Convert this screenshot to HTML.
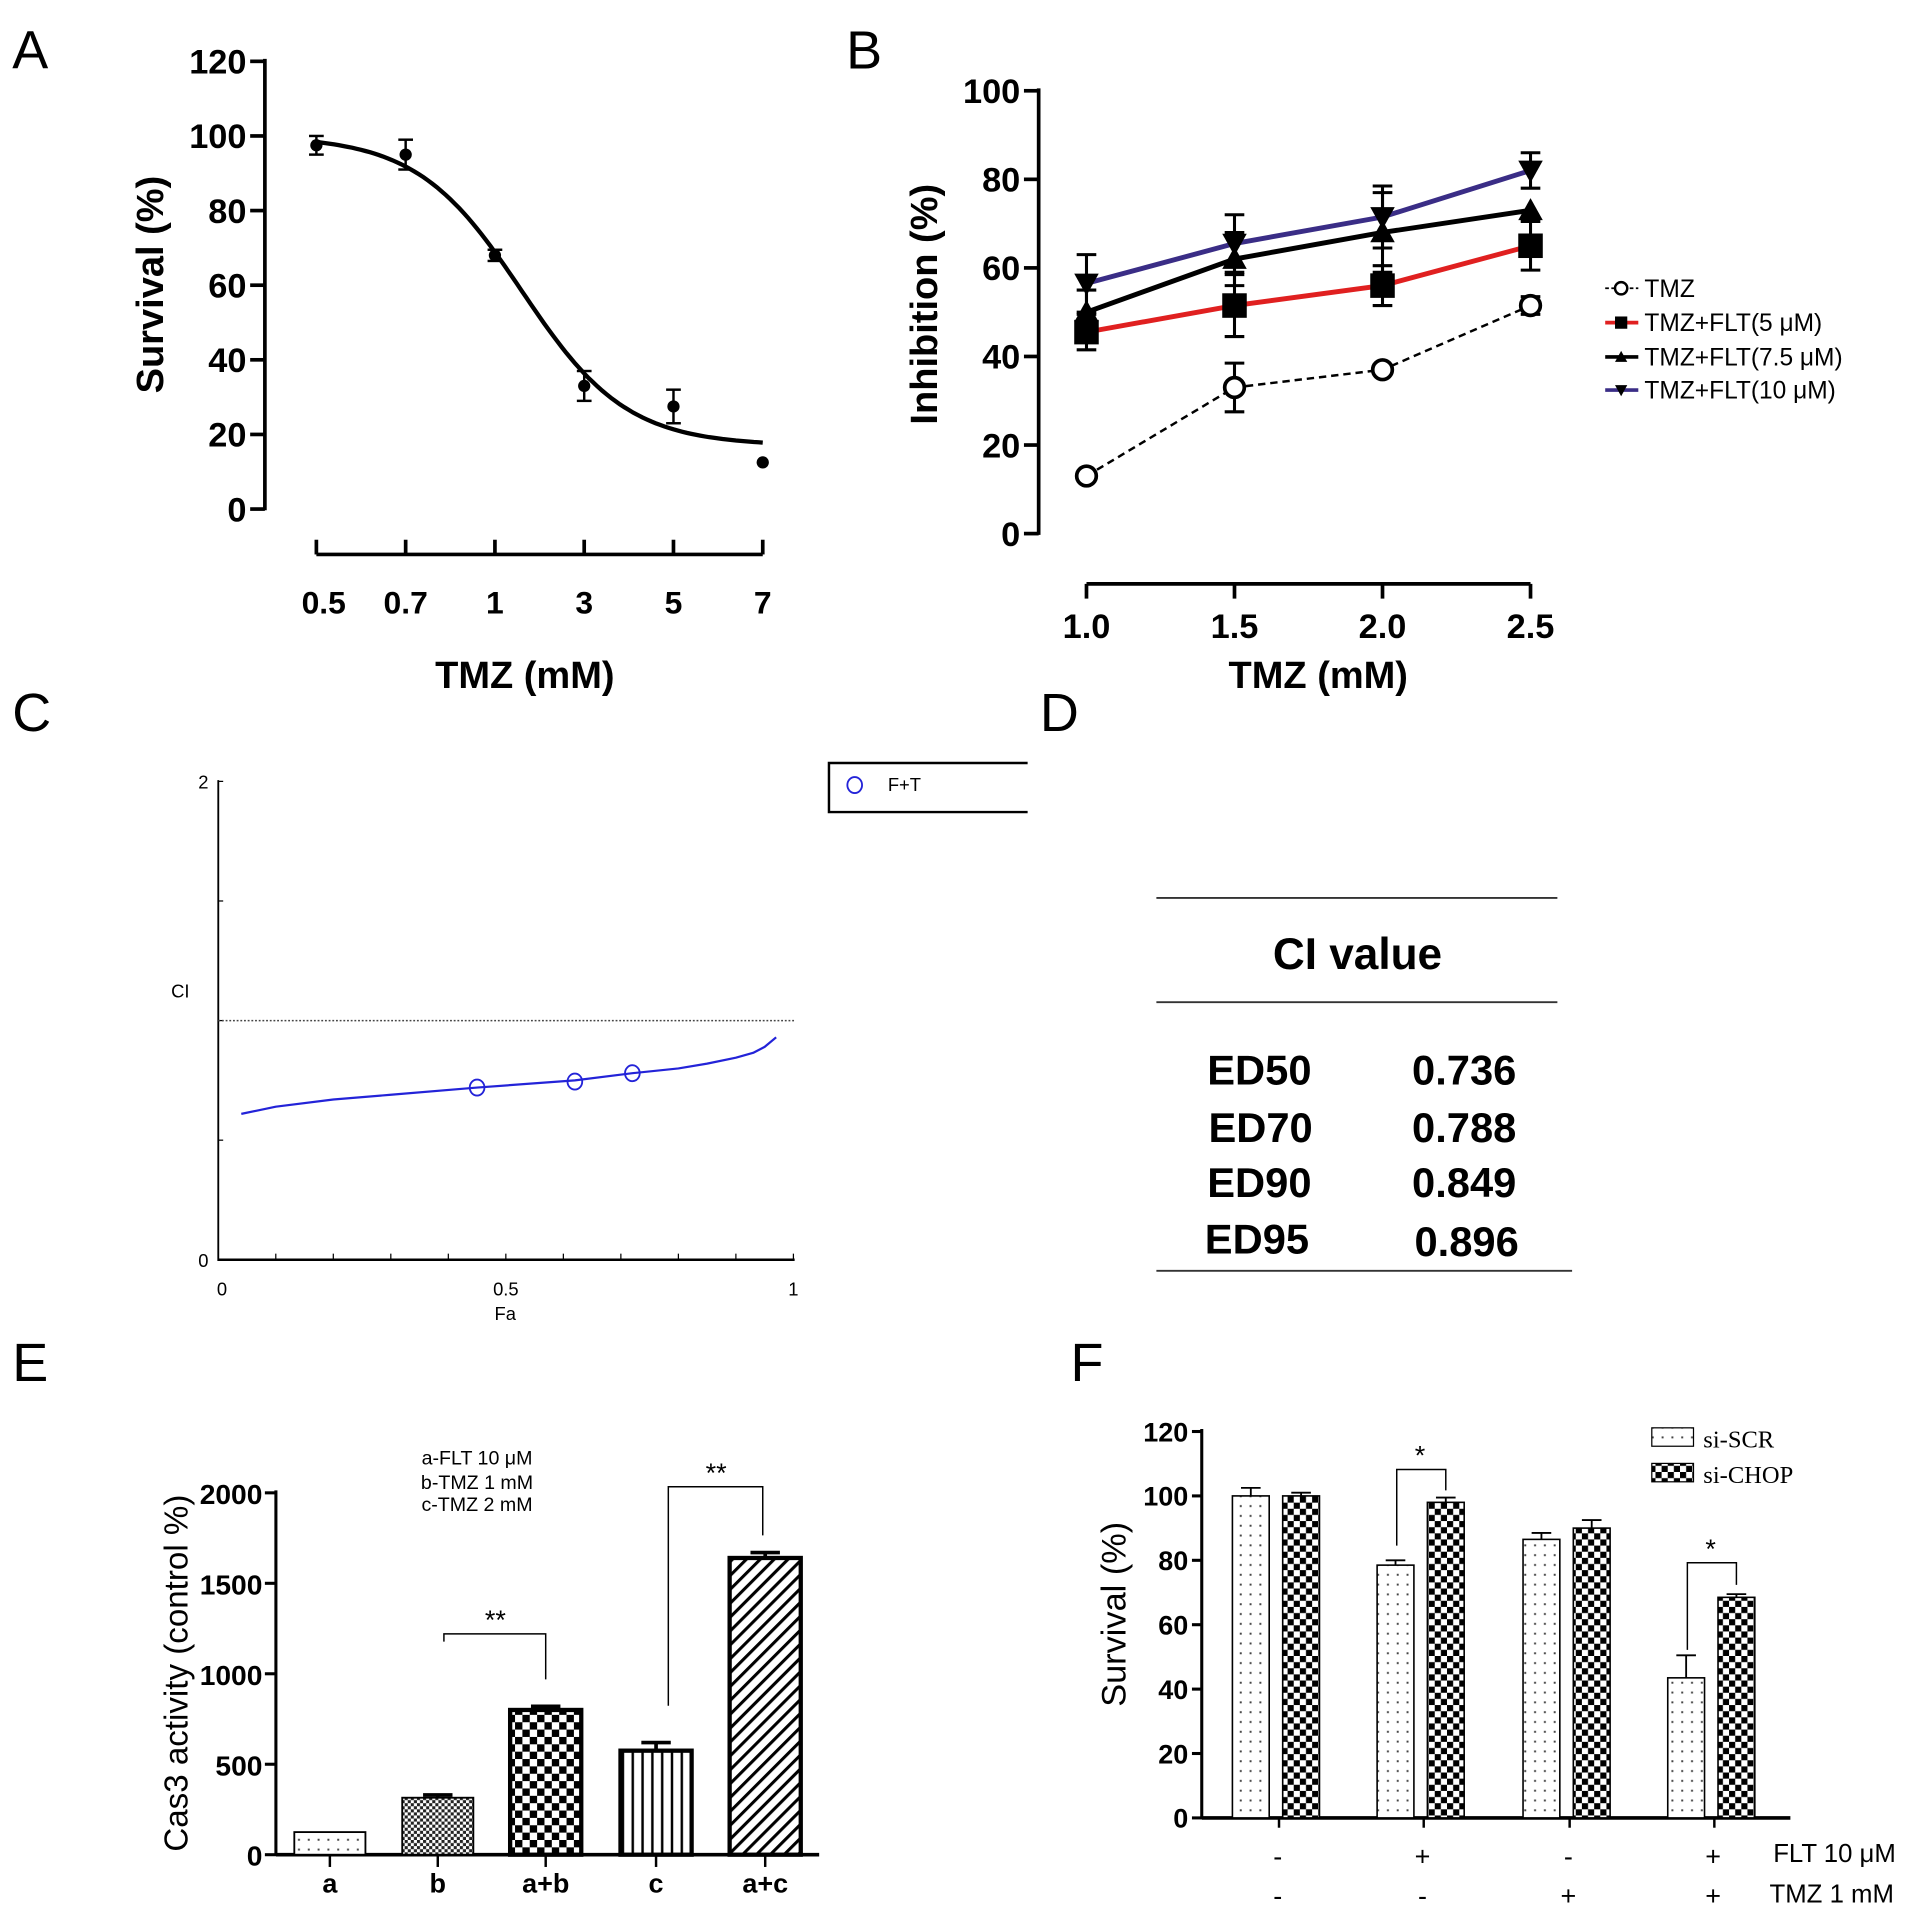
<!DOCTYPE html>
<html><head><meta charset="utf-8"><style>
html,body{margin:0;padding:0;background:#fff;}
svg{display:block;}
text{font-family:"Liberation Sans",Arial,sans-serif;}
text.serif{font-family:"Liberation Serif","Times New Roman",serif;}
</style></head>
<body>
<svg id="fig" width="1913" height="1905" viewBox="0 0 1560 1553" preserveAspectRatio="none" xmlns="http://www.w3.org/2000/svg">
<defs>
<pattern id="pDots" width="8" height="8" patternUnits="userSpaceOnUse"><rect width="8" height="8" fill="#fff"/><rect x="3" y="3" width="1.6" height="1.6" fill="#444"/></pattern>
<pattern id="pFine" width="5" height="5" patternUnits="userSpaceOnUse"><rect width="5" height="5" fill="#fff"/><rect width="2.5" height="2.5" fill="#222"/><rect x="2.5" y="2.5" width="2.5" height="2.5" fill="#222"/></pattern>
<pattern id="pCheck" width="12" height="12" patternUnits="userSpaceOnUse"><rect width="12" height="12" fill="#fff"/><rect width="6" height="6" fill="#000"/><rect x="6" y="6" width="6" height="6" fill="#000"/></pattern>
<pattern id="pCheckF" width="10" height="10" patternUnits="userSpaceOnUse"><rect width="10" height="10" fill="#fff"/><rect width="5" height="5" fill="#000"/><rect x="5" y="5" width="5" height="5" fill="#000"/></pattern>
<pattern id="pVert" width="8" height="8" patternUnits="userSpaceOnUse"><rect width="8" height="8" fill="#fff"/><rect x="3" width="2" height="8" fill="#000"/></pattern>
<pattern id="pDiag" width="8" height="8" patternUnits="userSpaceOnUse" patternTransform="rotate(45)"><rect width="8" height="8" fill="#fff"/><rect x="0" width="2.5" height="8" fill="#000"/></pattern>
</defs>
<g font-size="44">
<text x="10" y="56">A</text><text x="690" y="56">B</text><text x="10" y="596">C</text>
<text x="848" y="596">D</text><text x="10" y="1126">E</text><text x="873" y="1126">F</text>
</g>
<g id="gA"></g>
<g id="gB"></g>
<g id="gC"></g>
<g id="gD">
<line x1="943" y1="732" x2="1270" y2="732" stroke="#333" stroke-width="1.5"/>
<line x1="943" y1="817" x2="1270" y2="817" stroke="#333" stroke-width="1.5"/>
<line x1="943" y1="1036" x2="1282" y2="1036" stroke="#333" stroke-width="1.5"/>
<text x="1107" y="790" font-size="36" font-weight="bold" text-anchor="middle">CI  value</text>
<g font-size="34" font-weight="bold" text-anchor="middle">
<text x="1027" y="884">ED50</text><text x="1194" y="884">0.736</text>
<text x="1028" y="931">ED70</text><text x="1194" y="931">0.788</text>
<text x="1027" y="976">ED90</text><text x="1194" y="976">0.849</text>
<text x="1025" y="1022">ED95</text><text x="1196" y="1024">0.896</text>
</g></g>
<g id="gE"></g>
<g id="gF"></g>
</svg>
<script>
// ---- Panel A data ----
const aCats = ["0.5","0.7","1","3","5","7"];
const aVals = [97.5,95,68,33,27.5,12.5];
const aErr = [2.5,4,1.5,4,4.5,0];
const aFit = [100,17,2.3,1.7]; // top, bottom, mid(index), slope
const aTicks = [0,20,40,60,80,100,120];
// ---- Panel B data ----
const bCats = ["1.0","1.5","2.0","2.5"];
const bTMZ = [13,33,37,51.5];
const bTMZerr = [0,5.5,0,2];
const bF5 = [45.5,51.5,56,65];
const bF5err = [4,7,4.5,5.5];
const bF75 = [50,62,68,73];
const bF75err = [5,6,9,0];
const bF10 = [56.5,65.5,71.5,82];
const bF10err = [6.5,6.5,7,4];
const bTicks = [0,20,40,60,80,100];
// ---- Panel C data ----
const cPtsFa = [0.45,0.62,0.72];
const cPtsCI = [0.72,0.745,0.78];
const cCurveFa = [0.04,0.07,0.1,0.2,0.3,0.45,0.62,0.72,0.8,0.85,0.9,0.93,0.95,0.97];
const cCurveCI = [0.61,0.625,0.64,0.67,0.69,0.72,0.75,0.78,0.8,0.82,0.845,0.865,0.89,0.93];
// ---- Panel E data ----
const eCats = ["a","b","a+b","c","a+c"];
const eVals = [125,315,800,575,1640];
const eErr = [0,15,20,45,30];
const eTicks = [0,500,1000,1500,2000];
// ---- Panel F data ----
const fSCR = [100,78.5,86.5,43.5];
const fSCRerr = [2.5,1.5,2,7];
const fCHOP = [100,98,90,68.5];
const fCHOPerr = [1,1.5,2.5,1];
const fFLT = ["-","+","-","+"];
const fTMZ = ["-","-","+","+"];
const fTicks = [0,20,40,60,80,100,120];

const NS="http://www.w3.org/2000/svg";
function mk(parent,tag,attrs,txt){const e=document.createElementNS(NS,tag);for(const k in attrs)e.setAttribute(k,attrs[k]);if(txt!==undefined)e.textContent=txt;parent.appendChild(e);return e;}

// ===== Panel A =====
(function(){
const g=document.getElementById('gA');
const y=v=>415-v*(365/120);
const x=i=>258+i*72.8;
mk(g,'line',{x1:216,y1:48,x2:216,y2:416,stroke:'#000','stroke-width':3});
aTicks.forEach(t=>{mk(g,'line',{x1:204,y1:y(t),x2:216,y2:y(t),stroke:'#000','stroke-width':3});
 const tl=mk(g,'text',{x:201,y:y(t)+10,'font-size':28,'font-weight':'bold','text-anchor':'end'},t);
 });
mk(g,'line',{x1:x(0),y1:452,x2:x(5),y2:452,stroke:'#000','stroke-width':3});
aCats.forEach((c,i)=>{mk(g,'line',{x1:x(i),y1:440,x2:x(i),y2:452,stroke:'#000','stroke-width':3});
 const tl=mk(g,'text',{x:x(i)+(i==0?6:0),y:500,'font-size':26,'font-weight':'bold','text-anchor':'middle'},c);
 });
const xt=mk(g,'text',{x:428,y:561,'font-size':31,'font-weight':'bold','text-anchor':'middle'},'TMZ (mM)');

const yt=mk(g,'text',{x:0,y:0,'font-size':31,'font-weight':'bold','text-anchor':'middle',transform:'translate(133,232) rotate(-90)'},'Survival (%)');

let d='';for(let s=0;s<=100;s++){const i=s*0.05;const v=aFit[1]+(aFit[0]-aFit[1])/(1+Math.exp((i-aFit[2])*aFit[3]));d+=(s?'L':'M')+x(i).toFixed(1)+','+y(v).toFixed(1);}
const fit=mk(g,'path',{d:d,fill:'none',stroke:'#000','stroke-width':3.5});

aVals.forEach((v,i)=>{const cx=x(i);
 if(aErr[i]>0){mk(g,'line',{x1:cx,y1:y(v-aErr[i]),x2:cx,y2:y(v+aErr[i]),stroke:'#000','stroke-width':2});
 [v-aErr[i],v+aErr[i]].forEach(e=>mk(g,'line',{x1:cx-6,y1:y(e),x2:cx+6,y2:y(e),stroke:'#000','stroke-width':2}));}
 const p=mk(g,'circle',{cx:cx,cy:y(v),r:5,fill:'#000'});
 });
})();

// ===== Panel B =====
(function(){
const g=document.getElementById('gB');
const y=v=>435-v*3.61;
const x=i=>886+i*120.7;
mk(g,'line',{x1:847,y1:72,x2:847,y2:436,stroke:'#000','stroke-width':3});
bTicks.forEach(t=>{mk(g,'line',{x1:835,y1:y(t),x2:847,y2:y(t),stroke:'#000','stroke-width':3});
 const tl=mk(g,'text',{x:832,y:y(t)+10,'font-size':28,'font-weight':'bold','text-anchor':'end'},t);
 });
mk(g,'line',{x1:x(0),y1:476,x2:x(3),y2:476,stroke:'#000','stroke-width':3});
bCats.forEach((c,i)=>{mk(g,'line',{x1:x(i),y1:476,x2:x(i),y2:488,stroke:'#000','stroke-width':3});
 const tl=mk(g,'text',{x:x(i),y:520,'font-size':28,'font-weight':'bold','text-anchor':'middle'},c);
 });
const xt=mk(g,'text',{x:1075,y:561,'font-size':31,'font-weight':'bold','text-anchor':'middle'},'TMZ (mM)');

const yt=mk(g,'text',{x:0,y:0,'font-size':31,'font-weight':'bold','text-anchor':'middle',transform:'translate(764,248) rotate(-90)'},'Inhibition (%)');

const series=[
 {v:bTMZ,e:bTMZerr,c:'#000',dash:'6,4',m:'circle',n:'tmz'},
 {v:bF5,e:bF5err,c:'#e02020',dash:'',m:'square',n:'flt-5'},
 {v:bF75,e:bF75err,c:'#000',dash:'',m:'tri',n:'flt-7-5'},
 {v:bF10,e:bF10err,c:'#3a2d86',dash:'',m:'tridown',n:'flt-10'}];
function marker(gg,m,cx,cy,s){
 if(m=='circle')return mk(gg,'circle',{cx:cx,cy:cy,r:s*0.8,fill:'#fff',stroke:'#000','stroke-width':3});
 if(m=='square')return mk(gg,'rect',{x:cx-s,y:cy-s,width:2*s,height:2*s,fill:'#000'});
 if(m=='tri')return mk(gg,'polygon',{points:`${cx},${cy-s} ${cx-s},${cy+s*0.8} ${cx+s},${cy+s*0.8}`,fill:'#000'});
 return mk(gg,'polygon',{points:`${cx},${cy+s} ${cx-s},${cy-s*0.8} ${cx+s},${cy-s*0.8}`,fill:'#000'});}
series.forEach(s=>{
 const sg=mk(g,'g',{});
 
 s.v.forEach((v,i)=>{if(s.e[i]>0){const cx=x(i);
  mk(sg,'line',{x1:cx,y1:y(v-s.e[i]),x2:cx,y2:y(v+s.e[i]),stroke:'#000','stroke-width':2.5});
  [v-s.e[i],v+s.e[i]].forEach(e=>mk(sg,'line',{x1:cx-8,y1:y(e),x2:cx+8,y2:y(e),stroke:'#000','stroke-width':2.5}));}});
 const ln=mk(sg,'polyline',{points:s.v.map((v,i)=>x(i)+','+y(v)).join(' '),fill:'none',stroke:s.c,'stroke-width':s.dash?2:4,'stroke-dasharray':s.dash});
 
 s.v.forEach((v,i)=>{const mm=marker(sg,s.m,x(i),y(v),10);
  });
});
const lg=mk(g,'g',{});

const labs=['TMZ','TMZ+FLT(5 μM)','TMZ+FLT(7.5 μM)','TMZ+FLT(10 μM)'];
const ly=[235,263,291,318];
series.forEach((s,i)=>{const e=mk(lg,'g',{});
 
 mk(e,'line',{x1:1309,y1:ly[i],x2:1336,y2:ly[i],stroke:s.c,'stroke-width':s.dash?1.5:3,'stroke-dasharray':s.dash?'3,2':''});
 if(s.m=='circle')mk(e,'circle',{cx:1322,cy:ly[i],r:5,fill:'#fff',stroke:'#000','stroke-width':2});else marker(e,s.m,1322,ly[i],5);
 mk(e,'text',{x:1341,y:ly[i]+7,'font-size':20},labs[i]);});
})();

// ===== Panel C =====
(function(){
const g=document.getElementById('gC');
const x=f=>178+f*469;
const y=v=>1027-v*195;
mk(g,'line',{x1:178,y1:636,x2:178,y2:1028,stroke:'#000','stroke-width':1.5});
mk(g,'line',{x1:178,y1:1027,x2:648,y2:1027,stroke:'#000','stroke-width':2});
[0,0.5,1,1.5,2].forEach(t=>mk(g,'line',{x1:178,y1:y(t),x2:182,y2:y(t),stroke:'#000','stroke-width':1}));
for(let k=1;k<=10;k++)mk(g,'line',{x1:x(k/10),y1:1027,x2:x(k/10),y2:1022,stroke:'#000','stroke-width':1});
[['0',0],['2',2]].forEach(a=>{const t=mk(g,'text',{x:170,y:y(a[1])+6,'font-size':15,'text-anchor':'end'},a[0]);});
[['0',0],['0.5',0.5],['1',1]].forEach(a=>{const t=mk(g,'text',{x:x(a[1])+(a[1]==0?3:0),y:1056,'font-size':15,'text-anchor':'middle'},a[0]);});
const xt=mk(g,'text',{x:412,y:1076,'font-size':15,'text-anchor':'middle'},'Fa');

const yt=mk(g,'text',{x:147,y:813,'font-size':15,'text-anchor':'middle'},'CI');

const ref=mk(g,'line',{x1:178,y1:y(1),x2:648,y2:y(1),stroke:'#444','stroke-width':1.2,'stroke-dasharray':'1.5,1.5'});

let d='';cCurveFa.forEach((f,i)=>{d+=(i?'L':'M')+x(f)+','+y(cCurveCI[i]);});
const c=mk(g,'path',{d:d,fill:'none',stroke:'#2323d8','stroke-width':1.8,'stroke-linejoin':'round'});

cPtsFa.forEach((f,i)=>{const p=mk(g,'ellipse',{cx:x(f),cy:y(cPtsCI[i]),rx:6,ry:6.5,fill:'none',stroke:'#2323d8','stroke-width':1.5});
 });
const lg=mk(g,'g',{});

mk(lg,'polyline',{points:'838,622 676,622 676,662 838,662',fill:'none',stroke:'#000','stroke-width':2});
mk(lg,'ellipse',{cx:697,cy:640,rx:6,ry:6.5,fill:'none',stroke:'#2323d8','stroke-width':1.5});
mk(lg,'text',{x:724,y:645,'font-size':15},'F+T');
})();

// ===== Panel E =====
(function(){
const g=document.getElementById('gE');
const y=v=>1512-v*0.1475;
const cx=[269,357,445,535,624];
const pats=['url(#pDots)','url(#pFine)','url(#pCheck)','url(#pVert)','url(#pDiag)'];
mk(g,'line',{x1:225,y1:1215,x2:225,y2:1513,stroke:'#000','stroke-width':2.5});
eTicks.forEach(t=>{mk(g,'line',{x1:216,y1:y(t),x2:225,y2:y(t),stroke:'#000','stroke-width':2.5});
 const tl=mk(g,'text',{x:214,y:y(t)+9,'font-size':23,'font-weight':'bold','text-anchor':'end'},t);
 });
mk(g,'line',{x1:225,y1:1512,x2:668,y2:1512,stroke:'#000','stroke-width':3});
eVals.forEach((v,i)=>{
 if(eErr[i]>0){mk(g,'line',{x1:cx[i],y1:y(v),x2:cx[i],y2:y(v+eErr[i]),stroke:'#000','stroke-width':3});
  mk(g,'line',{x1:cx[i]-12,y1:y(v+eErr[i]),x2:cx[i]+12,y2:y(v+eErr[i]),stroke:'#000','stroke-width':3});}
 const b=mk(g,'rect',{x:cx[i]-29,y:y(v),width:58,height:1512-y(v),fill:pats[i],stroke:'#000','stroke-width':i<2?1.5:3.5});
 
 mk(g,'line',{x1:cx[i],y1:1512,x2:cx[i],y2:1522,stroke:'#000','stroke-width':2});
 const tl=mk(g,'text',{x:cx[i],y:1543,'font-size':22,'font-weight':'bold','text-anchor':'middle'},eCats[i]);
 });
const yt=mk(g,'text',{x:0,y:0,'font-size':27,'text-anchor':'middle',transform:'translate(153,1364) rotate(-90)'},'Cas3 activity  (control %)');

const lg=mk(g,'g',{'font-size':16,'text-anchor':'middle'});

mk(lg,'text',{x:389,y:1194},'a-FLT 10 μM');mk(lg,'text',{x:389,y:1214},'b-TMZ 1 mM');mk(lg,'text',{x:389,y:1232},'c-TMZ 2 mM');
const br=[[cx[1],y(eVals[1]+eErr[1])-125,cx[2],y(eVals[2]+eErr[2])-22,1332,'**'],[cx[3]+5,y(eVals[3]+eErr[3])-30,cx[4]-2,y(eVals[4]+eErr[4])-14,1212,'**']];
br.forEach(b=>{const s=mk(g,'polyline',{points:`${b[0]+5},${b[1]} ${b[0]+5},${b[4]} ${b[2]},${b[4]} ${b[2]},${b[3]}`,fill:'none',stroke:'#000','stroke-width':1.2});
 
 mk(g,'text',{x:(b[0]+b[2])/2+3,y:b[4]-4,'font-size':22,'text-anchor':'middle'},b[5]);});
})();

// ===== Panel F =====
(function(){
const g=document.getElementById('gF');
const y=v=>1482-v*2.625;
const cx=[1040,1158,1277,1395];
mk(g,'line',{x1:980,y1:1165,x2:980,y2:1483,stroke:'#000','stroke-width':2.5});
fTicks.forEach(t=>{mk(g,'line',{x1:972,y1:y(t),x2:980,y2:y(t),stroke:'#000','stroke-width':2.5});
 const tl=mk(g,'text',{x:969,y:y(t)+8,'font-size':22,'font-weight':'bold','text-anchor':'end'},t);
 });
mk(g,'line',{x1:980,y1:1482,x2:1460,y2:1482,stroke:'#000','stroke-width':3});
cx.forEach((c,i)=>{
 [[fSCR,fSCRerr,c-35,'url(#pDots)','scr'],[fCHOP,fCHOPerr,c+6,'url(#pCheckF)','chop']].forEach(s=>{
  const v=s[0][i],e=s[1][i],bx=s[2];
  mk(g,'line',{x1:bx+15,y1:y(v),x2:bx+15,y2:y(v+e),stroke:'#000','stroke-width':1.5});
  mk(g,'line',{x1:bx+7,y1:y(v+e),x2:bx+23,y2:y(v+e),stroke:'#000','stroke-width':1.5});
  const b=mk(g,'rect',{x:bx,y:y(v),width:30,height:1482-y(v),fill:s[3],stroke:'#000','stroke-width':1.3});
  });
 mk(g,'line',{x1:c+3,y1:1482,x2:c+3,y2:1490,stroke:'#000','stroke-width':2});
 const t1=mk(g,'text',{x:c+2,y:1521,'font-size':22,'text-anchor':'middle'},fFLT[i]);
 
 const t2=mk(g,'text',{x:c+2,y:1553,'font-size':22,'text-anchor':'middle'},fTMZ[i]);
 });
mk(g,'text',{x:1446,y:1518,'font-size':21},'FLT 10 μM');
mk(g,'text',{x:1443,y:1551,'font-size':21},'TMZ 1 mM');
const yt=mk(g,'text',{x:0,y:0,'font-size':28,'text-anchor':'middle',transform:'translate(918,1316) rotate(-90)'},'Survival  (%)');

const lg=mk(g,'g',{});

mk(lg,'rect',{x:1347,y:1164,width:34,height:15,fill:'url(#pDots)',stroke:'#000','stroke-width':1});
mk(lg,'rect',{x:1347,y:1193,width:34,height:15,fill:'url(#pCheckF)',stroke:'#000','stroke-width':1});
mk(lg,'text',{x:1389,y:1180,'font-size':20,'class':'serif'},'si-SCR');
mk(lg,'text',{x:1389,y:1209,'font-size':20,'class':'serif'},'si-CHOP');
[[1,1198,1260,1215],[3,1274,1345,1292]].forEach(b=>{const c=cx[b[0]];
 const s=mk(g,'polyline',{points:`${c-19},${b[2]} ${c-19},${b[1]} ${c+21},${b[1]} ${c+21},${b[3]}`,fill:'none',stroke:'#000','stroke-width':1.2});
 
 mk(g,'text',{x:c,y:b[1]-4,'font-size':22,'text-anchor':'middle'},'*');});
})();
</script>
</body></html>
